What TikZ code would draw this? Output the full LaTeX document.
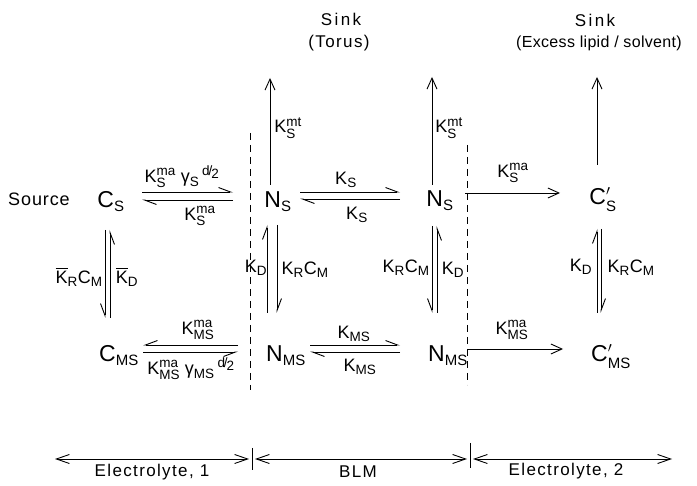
\documentclass[tikz,border=0pt]{standalone}
\usepackage{amsmath}
\usepackage{fontspec}
\setmainfont{Liberation Sans}
\DeclareMathSizes{23}{23}{15}{11}
\DeclareMathSizes{18}{18}{13.5}{10}
\usetikzlibrary{arrows.meta}
\newcommand{\rk}[2]{\text{K}_{\text{#1}}^{\text{#2}}}
\newcommand{\barK}{\overline{\text{K}}}
\newcommand{\hlf}{{}^{\text{d\kern-.08em/\kern-.08em\raisebox{-.35ex}{2}}}}
\begin{document}
\begin{tikzpicture}[x=1pt,y=-1pt,
  sp/.style={font=\fontsize{23}{26}\selectfont, inner sep=0pt, anchor=base},
  lb/.style={font=\fontsize{18}{20}\selectfont, inner sep=0pt},
  tx/.style={font=\fontsize{17}{20}\selectfont\addfontfeature{LetterSpace=8}, inner sep=0pt},
  ln/.style={line width=0.9pt},
  hp/.style={ln, -{Straight Barb[harpoon,length=12pt,width=9pt]}},
  hps/.style={ln, -{Straight Barb[harpoon,swap,length=12pt,width=9pt]}},
  ar/.style={ln, -{Straight Barb[length=11pt,width=10pt]}},
  dar/.style={ln, {Straight Barb[length=13pt,width=9pt]}-{Straight Barb[length=13pt,width=9pt]}},
  dsh/.style={line width=0.7pt, dash pattern=on 7pt off 5pt}]
\useasboundingbox (0,0) rectangle (697,486);

% species
\node[sp] (cs)   at (111,208) {C$_{\text{S}}$};
\node[sp] (ns1)  at (278,208) {N$_{\text{S}}$};
\node[sp] (ns2)  at (440,207) {N$_{\text{S}}$};
\node[sp] (csp)  at (603,205) {C$'_{\text{S}}$};
\node[sp] (cms)  at (119,362) {C$_{\text{MS}}$};
\node[sp] (nms1) at (286,362) {N$_{\text{MS}}$};
\node[sp] (nms2) at (448,362) {N$_{\text{MS}}$};
\node[sp] (cmsp) at (611,362) {C$'_{\text{MS}}$};

% texts
\node[tx, font=\fontsize{18}{20}\selectfont\addfontfeature{LetterSpace=5}] (src) at (39,199) {Source};
\node[tx, font=\fontsize{17}{20}\selectfont\addfontfeature{LetterSpace=14}] (sk1) at (341,19) {Sink};
\node[tx] (to1) at (339,43) {(Torus)};
\node[tx, font=\fontsize{17}{20}\selectfont\addfontfeature{LetterSpace=14}] (sk2) at (595,20) {Sink};
\node[tx, font=\fontsize{16}{18}\selectfont\addfontfeature{LetterSpace=2}, anchor=west] (to2) at (516,43) {(Excess lipid / solvent)};

% sink ends
\coordinate (t1) at (270,78);
\coordinate (t2) at (432,77);
\coordinate (t3) at (597,77);

% horizontal equilibria, top row
\draw[hp] ([shift={(31,-16)}]cs.base) -- ([shift={(-45,-16)}]ns1.base);
\draw[hp] ([shift={(-45,-8)}]ns1.base) -- ([shift={(31,-8)}]cs.base);
\draw[hp] ([shift={(22,-16)}]ns1.base) -- ([shift={(-40,-15)}]ns2.base);
\draw[hp] ([shift={(-40,-8)}]ns2.base) -- ([shift={(22,-9)}]ns1.base);
\draw[ar] ([shift={(25,-14)}]ns2.base) -- ([shift={(-43,-12)}]csp.base);

% up arrows to sinks
\draw[ar] ([shift={(-8,-23)}]ns1.base) -- (t1);
\draw[ar] ([shift={(-8,-22)}]ns2.base) -- (t2);
\draw[ar] ([shift={(-6,-40)}]csp.base) -- (t3);

% vertical equilibria
\draw[hps] ([shift={(-6,22)}]cs.base) -- ([shift={(-14,-44)}]cms.base);
\draw[hps] ([shift={(-9,-44)}]cms.base) -- ([shift={(-1,22)}]cs.base);
\draw[hp] ([shift={(-19,-49)}]nms1.base) -- ([shift={(-11,17)}]ns1.base);
\draw[hp] ([shift={(-1,17)}]ns1.base) -- ([shift={(-9,-49)}]nms1.base);
\draw[hps] ([shift={(-8,19)}]ns2.base) -- ([shift={(-16,-49)}]nms2.base);
\draw[hps] ([shift={(-11,-49)}]nms2.base) -- ([shift={(-3,19)}]ns2.base);
\draw[hp] ([shift={(-14,-49)}]cmsp.base) -- ([shift={(-6,24)}]csp.base);
\draw[hp] ([shift={(-2,24)}]csp.base) -- ([shift={(-10,-49)}]cmsp.base);

% horizontal equilibria, bottom row
\draw[hps] ([shift={(-48,-17)}]nms1.base) -- ([shift={(24,-17)}]cms.base);
\draw[hps] ([shift={(24,-10)}]cms.base) -- ([shift={(-48,-10)}]nms1.base);
\draw[hp] ([shift={(24,-17)}]nms1.base) -- ([shift={(-48,-17)}]nms2.base);
\draw[hp] ([shift={(-48,-10)}]nms2.base) -- ([shift={(24,-10)}]nms1.base);
\draw[ar] ([shift={(19,-13)}]nms2.base) -- ([shift={(-48,-13)}]cmsp.base);

% rate labels
\node[lb] (l1) at (182,177) {$\rk{S}{ma}\;\text{γ}_{\text{S}}\,\hlf$};
\node[lb] (l2) at (200,216) {$\rk{S}{ma}$};
\node[lb] (l3) at (346,180) {$\text{K}_{\text{S}}$};
\node[lb] (l4) at (357,215) {$\text{K}_{\text{S}}$};
\node[lb] (l5) at (513,173) {$\rk{S}{ma}$};
\node[lb] (l6) at (288,128) {$\rk{S}{mt}$};
\node[lb] (l7) at (449,128) {$\rk{S}{mt}$};
\node[lb] (l8) at (79,277) {$\barK_{\text{R}}\text{C}_{\text{M}}$};
\node[lb] (l9) at (127,277) {$\barK_{\text{D}}$};
\node[lb] (l10) at (256,268) {$\text{K}_{\text{D}}$};
\node[lb] (l11) at (305,270) {$\text{K}_{\text{R}}\text{C}_{\text{M}}$};
\node[lb] (l12) at (406,268) {$\text{K}_{\text{R}}\text{C}_{\text{M}}$};
\node[lb] (l13) at (453,270) {$\text{K}_{\text{D}}$};
\node[lb] (l14) at (581,267) {$\text{K}_{\text{D}}$};
\node[lb] (l15) at (631,268) {$\text{K}_{\text{R}}\text{C}_{\text{M}}$};
\node[lb] (l16) at (198,330) {$\rk{MS}{ma}$};
\node[lb] (l17) at (191,369) {$\rk{MS}{ma}\;\text{γ}_{\text{MS}}\,\hlf$};
\node[lb] (l18) at (354,334) {$\text{K}_{\text{MS}}$};
\node[lb] (l19) at (360,367) {$\text{K}_{\text{MS}}$};
\node[lb] (l20) at (512,330) {$\rk{MS}{ma}$};

% membrane boundaries
\draw[dsh] (250,133) -- (250,390);
\draw[dsh] (467,145) -- (467,385);

% region scale
\coordinate (e0) at (55,459);
\coordinate (e1) at (252,459);
\coordinate (e2) at (470,459);
\coordinate (e3) at (672,459);
\draw[ln] (252,448) -- (252,470);
\draw[ln] (470,443) -- (470,468);
\draw[dar] (e0) -- ([xshift=-3pt]e1);
\draw[dar] ([xshift=3pt]e1) -- ([xshift=-3pt]e2);
\draw[dar] ([xshift=3pt]e2) -- (e3);
\node[tx] (r1) at (152,472) {Electrolyte, 1};
\node[tx] (r2) at (358,472) {BLM};
\node[tx] (r3) at (566,471) {Electrolyte, 2};
\end{tikzpicture}
\end{document}
